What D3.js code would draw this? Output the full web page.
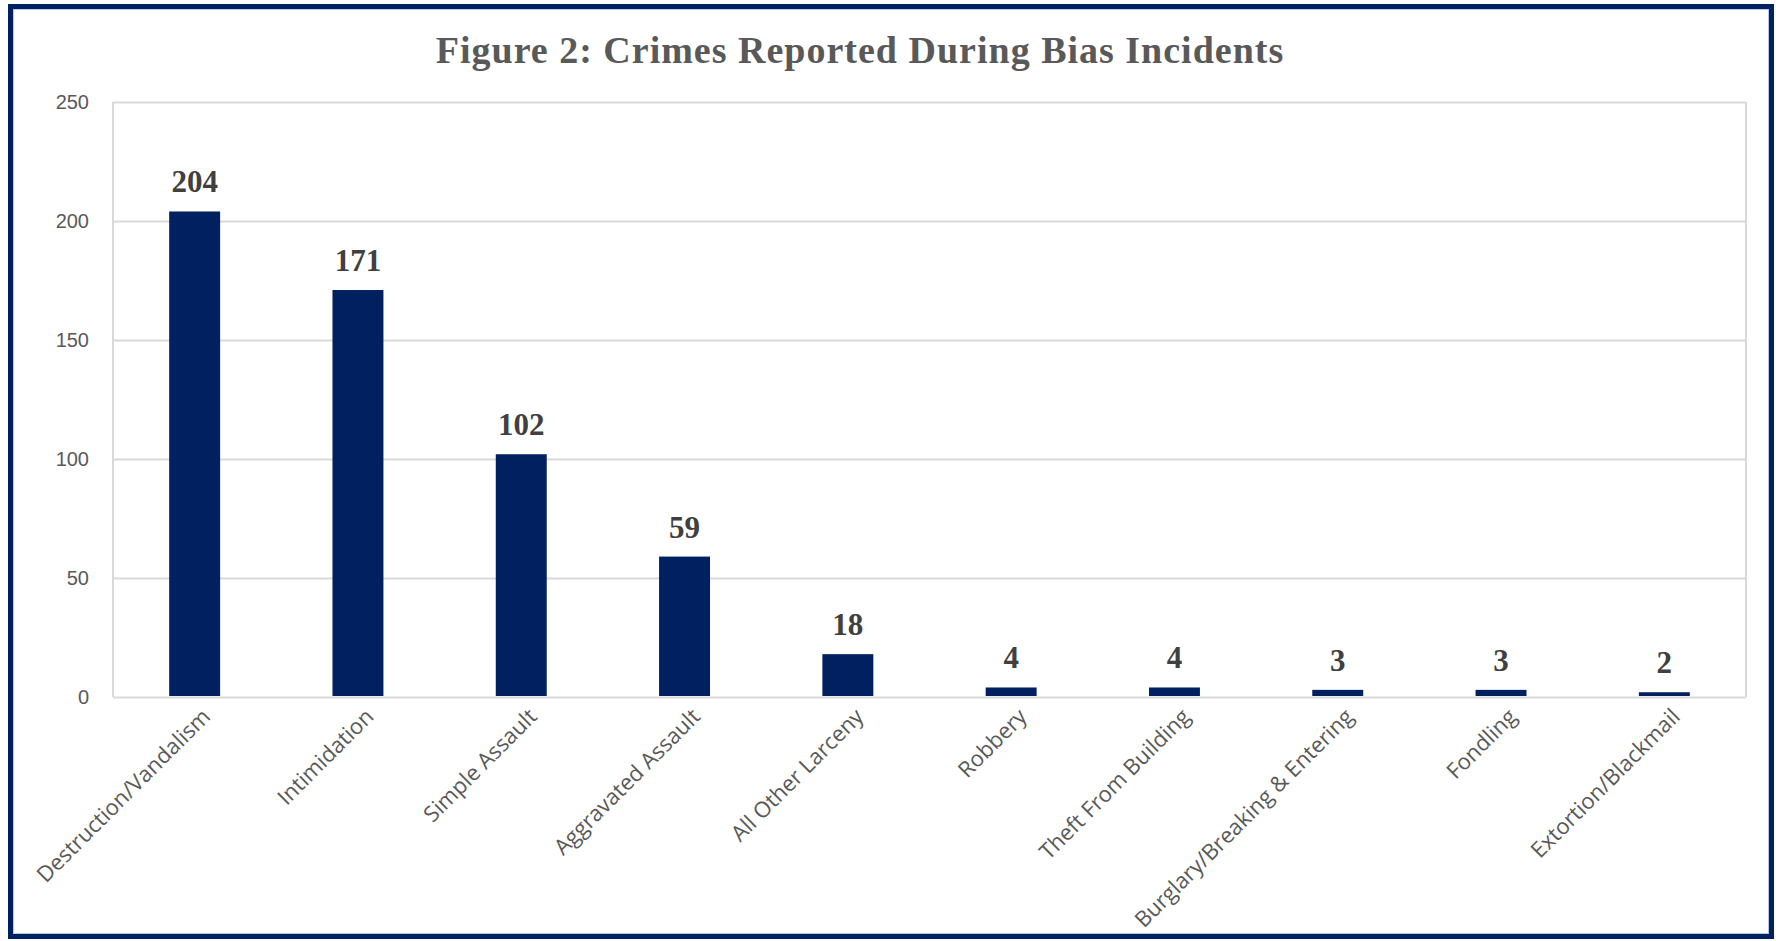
<!DOCTYPE html>
<html>
<head>
<meta charset="utf-8">
<script src="https://cdn.jsdelivr.net/npm/d3@7"></script>
<style>
  body { margin: 0; background: #ffffff; }
  svg { display: block; }
</style>
</head>
<body>
<div id="vis"></div>
<script>
// data
const CATEGORIES = ["Destruction/Vandalism", "Intimidation", "Simple Assault", "Aggravated Assault",
                    "All Other Larceny", "Robbery", "Theft From Building", "Burglary/Breaking & Entering",
                    "Fondling", "Extortion/Blackmail"];
const COUNTS = [204, 171, 102, 59, 18, 4, 4, 3, 3, 2];
const Y_TICKS = [0, 50, 100, 150, 200, 250];
const TITLE = "Figure 2: Crimes Reported During Bias Incidents";

// frame
const FRAME_WIDTH = 1776;
const FRAME_HEIGHT = 941;
const PLOT = {left: 113, right: 1746, top: 102, bottom: 697};

const NAVY = "#002060";
const GRID = "#d9d9d9";
const TEXT_GRAY = "#595959";

const FRAME = d3.select("#vis")
                .append("svg")
                  .attr("width", FRAME_WIDTH)
                  .attr("height", FRAME_HEIGHT);

// outer navy border
FRAME.append("rect")
      .attr("x", 10.5).attr("y", 6.5)
      .attr("width", 1761).attr("height", 930)
      .attr("fill", "white")
      .attr("stroke", NAVY)
      .attr("stroke-width", 5);
FRAME.append("rect")
      .attr("x", 13.5).attr("y", 9.5)
      .attr("width", 1755).attr("height", 924)
      .attr("fill", "none")
      .attr("stroke", "#b4c7e7")
      .attr("stroke-width", 1);

// scales
const X_SCALE = d3.scaleBand()
                  .domain(CATEGORIES)
                  .range([PLOT.left, PLOT.right])
                  .paddingInner(0.688)
                  .paddingOuter(0.344);

const Y_SCALE = d3.scaleLinear()
                  .domain([0, 250])
                  .range([PLOT.bottom, PLOT.top]);

// gridlines + y labels
const yAxis = FRAME.append("g")
      .attr("transform", "translate(" + PLOT.left + ",0)")
      .call(d3.axisLeft(Y_SCALE)
              .tickValues(Y_TICKS)
              .tickSize(-(PLOT.right - PLOT.left))
              .tickPadding(24));
yAxis.select(".domain").remove();
yAxis.selectAll("line")
      .attr("stroke", GRID)
      .attr("stroke-width", 2);
yAxis.selectAll("text")
      .attr("fill", TEXT_GRAY)
      .attr("font-family", "Liberation Sans, Arial, sans-serif")
      .attr("font-size", "20px");

// side borders of the plot box
FRAME.append("g").selectAll("line")
      .data([PLOT.left, PLOT.right])
      .enter()
      .append("line")
        .attr("x1", d => d).attr("x2", d => d)
        .attr("y1", PLOT.top).attr("y2", PLOT.bottom)
        .attr("stroke", GRID)
        .attr("stroke-width", 2);

// bars
FRAME.selectAll(".bar")
      .data(COUNTS)
      .enter()
      .append("rect")
        .attr("class", "bar")
        .attr("x", (d, i) => X_SCALE(CATEGORIES[i]))
        .attr("y", d => Y_SCALE(d))
        .attr("width", X_SCALE.bandwidth())
        .attr("height", d => Y_SCALE(0) - Y_SCALE(d) - 1)
        .attr("fill", NAVY);

// value labels
FRAME.selectAll(".value")
      .data(COUNTS)
      .enter()
      .append("text")
        .attr("class", "value")
        .attr("x", (d, i) => X_SCALE(CATEGORIES[i]) + X_SCALE.bandwidth() / 2)
        .attr("y", d => Y_SCALE(d) - 19)
        .attr("text-anchor", "middle")
        .attr("font-family", "Liberation Serif, Times New Roman, serif")
        .attr("font-weight", "bold")
        .attr("font-size", "31px")
        .attr("fill", "#404040")
        .text(d => d);

// x labels, rotated
FRAME.selectAll(".xlab")
      .data(CATEGORIES)
      .enter()
      .append("text")
        .attr("class", "xlab")
        .attr("transform", d => "translate(" + (X_SCALE(d) + X_SCALE.bandwidth() / 2 + 17) +
              "," + (PLOT.bottom + 21) + ") rotate(-45)")
        .attr("text-anchor", "end")
        .attr("font-family", "Open Sans, sans-serif")
        .attr("font-size", "22px")
        .attr("fill", TEXT_GRAY)
        .text(d => d);

// title
FRAME.append("text")
      .attr("x", 860)
      .attr("y", 63)
      .attr("text-anchor", "middle")
      .attr("font-family", "Liberation Serif, Times New Roman, serif")
      .attr("font-weight", "bold")
      .attr("font-size", "38px")
      .attr("letter-spacing", "1px")
      .attr("fill", TEXT_GRAY)
      .text(TITLE);
</script>
</body>
</html>
